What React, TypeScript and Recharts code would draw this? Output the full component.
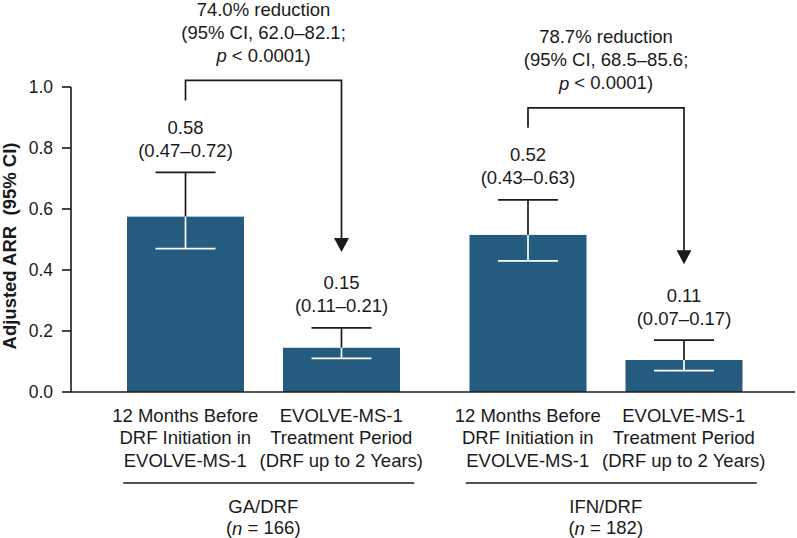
import { BarChart, Bar, XAxis, YAxis } from 'recharts';

const groups = ['GA/DRF', 'IFN/DRF'];
const groupN = [166, 182];
const beforeArr = [0.575, 0.515];
const afterArr = [0.145, 0.105];
const beforeLow = [0.47, 0.43];
const beforeHigh = [0.72, 0.63];
const afterLow = [0.11, 0.07];
const afterHigh = [0.21, 0.17];
const beforeText = ['0.58', '0.52'];
const afterText = ['0.15', '0.11'];
const reductionText = ['74.0% reduction', '78.7% reduction'];
const reductionCI = ['62.0–82.1', '68.5–85.6'];
const pText = ['< 0.0001)', '< 0.0001)'];
const periodLabels = [
  ['12 Months Before', 'DRF Initiation in', 'EVOLVE-MS-1'],
  ['EVOLVE-MS-1', 'Treatment Period', '(DRF up to 2 Years)'],
];
const yTicks = [0, 0.2, 0.4, 0.6, 0.8, 1.0];

const data = groups.map((g, i) => ({
  group: g,
  n: groupN[i],
  before: beforeArr[i],
  after: afterArr[i],
  beforeLow: beforeLow[i],
  beforeHigh: beforeHigh[i],
  afterLow: afterLow[i],
  afterHigh: afterHigh[i],
  beforeText: beforeText[i],
  afterText: afterText[i],
  reduction: reductionText[i],
  ci: reductionCI[i],
  p: pText[i],
}));

const BAR = '#255b7e';
const INK = '#1a1a1a';
const FONT = '"Liberation Sans", Arial, sans-serif';
const BAR_SIZE = 117;
const BAR_GAP = 39;
const CAP = 30;

// eslint-disable-next-line @typescript-eslint/no-explicit-any
const makeShape = (kind: 'before' | 'after') => (props: any) => {
  const { x, y, width, height, payload } = props;
  const value = payload[kind];
  const y0 = y + height;
  const ppu = height / value;
  const toY = (v: number) => y0 - v * ppu;
  const cx = x + width / 2;
  const hiY = toY(payload[`${kind}High`]);
  const loY = toY(payload[`${kind}Low`]);

  let annotation = null;
  if (kind === 'after') {
    const cxB = cx - (BAR_SIZE + BAR_GAP);
    const startY = toY(payload.beforeHigh) - 72;
    const topY = startY - 20;
    const tipY = hiY - 76;
    const mid = (cxB + cx) / 2;
    annotation = (
      <g>
        <path
          d={`M${cxB},${startY} V${topY} H${cx} V${tipY - 12}`}
          fill="none"
          stroke={INK}
          strokeWidth={1.7}
        />
        <polygon points={`${cx - 7.5},${tipY - 14} ${cx + 7.5},${tipY - 14} ${cx},${tipY}`} fill={INK} />
        <text x={mid} y={topY - 71} textAnchor="middle" dominantBaseline="central" fontSize={18.5} fill={INK}>
          {payload.reduction}
        </text>
        <text x={mid} y={topY - 48} textAnchor="middle" dominantBaseline="central" fontSize={18.5} fill={INK}>
          {`(95% CI, ${payload.ci};`}
        </text>
        <text x={mid} y={topY - 25} textAnchor="middle" dominantBaseline="central" fontSize={18.5} fill={INK}>
          <tspan fontStyle="italic">p</tspan> {payload.p}
        </text>
      </g>
    );
  }

  return (
    <g fontFamily={FONT}>
      <rect x={x} y={y} width={width} height={height} fill={BAR} />
      <line x1={cx} x2={cx} y1={hiY} y2={y} stroke={INK} strokeWidth={1.7} />
      <line x1={cx - CAP} x2={cx + CAP} y1={hiY} y2={hiY} stroke={INK} strokeWidth={1.7} />
      <line x1={cx} x2={cx} y1={y} y2={loY} stroke="#fff" strokeWidth={1.7} />
      <line x1={cx - CAP} x2={cx + CAP} y1={loY} y2={loY} stroke="#fff" strokeWidth={1.7} />
      <text x={cx} y={hiY - 45} textAnchor="middle" dominantBaseline="central" fontSize={18.5} fill={INK}>
        {payload[`${kind}Text`]}
      </text>
      <text x={cx} y={hiY - 22} textAnchor="middle" dominantBaseline="central" fontSize={18.5} fill={INK}>
        {`(${payload[`${kind}Low`].toFixed(2)}–${payload[`${kind}High`].toFixed(2)})`}
      </text>
      {annotation}
    </g>
  );
};

// eslint-disable-next-line @typescript-eslint/no-explicit-any
const GroupTick = ({ x, y, payload, index }: any) => {
  const step = (BAR_SIZE + BAR_GAP) / 2;
  const centers = [x - step, x + step];
  return (
    <g fontFamily={FONT} fill={INK} fontSize={18.5}>
      {centers.map((c, k) =>
        periodLabels[k].map((line, j) => (
          <text key={`${k}-${j}`} x={c} y={y + 23 + j * 22.5} textAnchor="middle" dominantBaseline="central">
            {line}
          </text>
        ))
      )}
      <line x1={x - 140} x2={x + 151} y1={y + 91} y2={y + 91} stroke={INK} strokeWidth={1.6} />
      <text x={x} y={y + 114} textAnchor="middle" dominantBaseline="central">
        {payload.value}
      </text>
      <text x={x} y={y + 135.5} textAnchor="middle" dominantBaseline="central">
        (<tspan fontStyle="italic">n</tspan> = {groupN[index]})
      </text>
    </g>
  );
};

const YLabel = () => (
  <text
    x={9}
    y={246}
    transform="rotate(-90 9 246)"
    textAnchor="middle"
    dominantBaseline="central"
    fontFamily={FONT}
    fontWeight="bold"
    fontSize={18.5}
    fill={INK}
  >
    {'Adjusted ARR\u00a0 (95% CI)'}
  </text>
);

export default function App() {
  return (
    <div style={{ position: 'absolute', left: 0, top: 0, background: '#fff' }}>
      <BarChart
        width={797}
        height={538}
        data={data}
        margin={{ top: 87, right: 2, bottom: 0, left: 0 }}
        barSize={BAR_SIZE}
        barGap={BAR_GAP}
      >
        <XAxis
          dataKey="group"
          tick={<GroupTick />}
          tickLine={false}
          tickSize={0}
          tickMargin={0}
          height={146}
          padding={{ left: 21, right: 18 }}
          axisLine={{ stroke: INK, strokeWidth: 1.6 }}
          interval={0}
        />
        <YAxis
          domain={[0, 1]}
          ticks={yTicks}
          tickFormatter={(v: number) => v.toFixed(1)}
          width={71}
          tickSize={9}
          tickMargin={9}
          tick={{ fontSize: 17.5, fill: INK, fontFamily: FONT }}
          tickLine={{ stroke: INK, strokeWidth: 1.6 }}
          axisLine={{ stroke: INK, strokeWidth: 1.6 }}
          label={<YLabel />}
        />
        <Bar dataKey="before" fill={BAR} shape={makeShape('before')} isAnimationActive={false} />
        <Bar dataKey="after" fill={BAR} shape={makeShape('after')} isAnimationActive={false} />
      </BarChart>
    </div>
  );
}
